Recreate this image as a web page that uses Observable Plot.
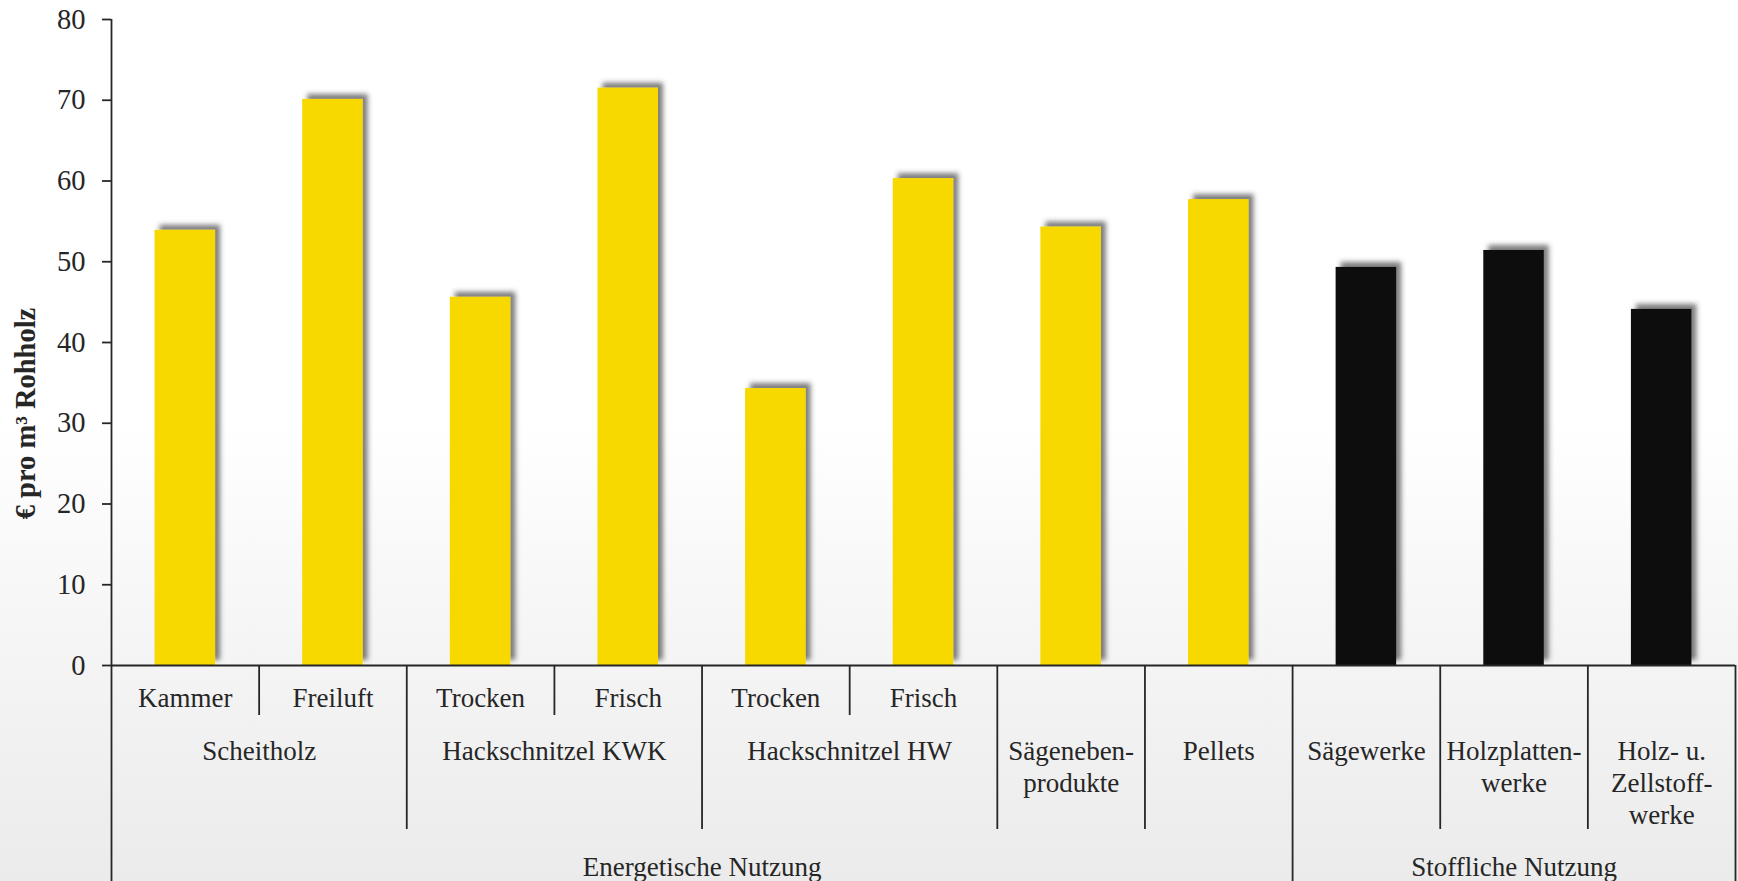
<!DOCTYPE html>
<html>
<head>
<meta charset="utf-8">
<script src="https://cdn.jsdelivr.net/npm/d3@7"></script>
<script src="https://cdn.jsdelivr.net/npm/@observablehq/plot@0.6"></script>
<style>
  html, body { margin: 0; padding: 0; }
  body {
    width: 1738px; height: 881px; overflow: hidden;
    background: linear-gradient(to bottom, #ffffff 0%, #ffffff 48%, #f6f6f6 70%, #ebebeb 100%);
  }
</style>
</head>
<body>
<div id="chart"></div>
<script>
// Price per cubic metre of raw wood, by type of use
const subLabels = ["Kammer", "Freiluft", "Trocken", "Frisch", "Trocken", "Frisch", null, null, null, null, null];
const groupLabels = [
  "Scheitholz", "Scheitholz",
  "Hackschnitzel KWK", "Hackschnitzel KWK",
  "Hackschnitzel HW", "Hackschnitzel HW",
  "Sägeneben-\nprodukte", "Pellets",
  "Sägewerke", "Holzplatten-\nwerke", "Holz- u.\nZellstoff-\nwerke"
];
const useLabels = [
  "Energetische Nutzung", "Energetische Nutzung", "Energetische Nutzung", "Energetische Nutzung",
  "Energetische Nutzung", "Energetische Nutzung", "Energetische Nutzung", "Energetische Nutzung",
  "Stoffliche Nutzung", "Stoffliche Nutzung", "Stoffliche Nutzung"
];
const values = [53.9, 70.1, 45.6, 71.5, 34.3, 60.3, 54.3, 57.7, 49.3, 51.4, 44.1];
const yTicks = [0, 10, 20, 30, 40, 50, 60, 70, 80];
const yLabel = "€ pro m³ Rohholz";

const W = 1738, H = 881;
const ML = 111, MR = 3, MT = 19, MB = 216;
const step = (W - ML - MR) / values.length;
const frameH = H - MT - MB;
const ink = "#262626";
const font = "Liberation Serif";

const rows = values.map((value, i) => ({i, value, use: useLabels[i], group: groupLabels[i], sub: subLabels[i]}));

// consecutive runs of equal labels -> span [start, end)
function runs(labels) {
  const out = [];
  labels.forEach((label, i) => {
    const last = out[out.length - 1];
    if (last && last.label === label) last.end = i + 1;
    else out.push({label, start: i, end: i + 1});
  });
  return out.map(r => ({...r, mid: (r.start + r.end) / 2}));
}
const groupRuns = runs(groupLabels);
const useRuns = runs(useLabels);

// category boundaries: level decides how far the divider reaches down
const bounds = d3.range(1, values.length + 1).map(b => {
  let kind;
  if (b === values.length || useLabels[b - 1] !== useLabels[b]) kind = "long";
  else if (groupLabels[b - 1] !== groupLabels[b]) kind = "medium";
  else kind = "short";
  return {b, kind};
});

const lineStyle = {stroke: ink, strokeWidth: 1.8};
const textStyle = {fontFamily: font, fontSize: 27, fill: ink};

const chart = Plot.plot({
  width: W, height: H,
  marginLeft: ML, marginRight: MR, marginTop: MT, marginBottom: MB,
  style: {background: "transparent", fontFamily: font, fontSize: "27px", color: ink},
  x: {type: "linear", domain: [0, values.length], axis: null},
  y: {domain: [0, 80], axis: null},
  color: {domain: ["Energetische Nutzung", "Stoffliche Nutzung"], range: ["#f7d900", "#0b0e0f"]},
  marks: [
    Plot.rectY(rows, {
      x1: "i", x2: d => d.i + 1, y: "value", fill: "use",
      insetLeft: step * 0.295, insetRight: step * 0.295
    }),
    Plot.axisY({ticks: yTicks, tickSize: 9, tickPadding: 17, label: null, ...lineStyle, fontSize: 28.5, fontFamily: font, fill: ink}),
    // y axis line, continued down as the left border of the category table
    Plot.ruleX([0], {...lineStyle, insetBottom: -MB}),
    Plot.ruleY([0], lineStyle),
    Plot.ruleX(bounds.filter(d => d.kind === "short"), {x: "b", ...lineStyle, insetTop: frameH, insetBottom: -50}),
    Plot.ruleX(bounds.filter(d => d.kind === "medium"), {x: "b", ...lineStyle, insetTop: frameH, insetBottom: -164}),
    Plot.ruleX(bounds.filter(d => d.kind === "long"), {x: "b", ...lineStyle, insetTop: frameH, insetBottom: -MB}),
    Plot.text(rows.filter(d => d.sub), {
      x: d => d.i + 0.5, text: "sub", frameAnchor: "bottom", dy: 33, lineAnchor: "middle", lineHeight: 1, ...textStyle
    }),
    Plot.text(groupRuns, {
      x: "mid", text: "label", frameAnchor: "bottom", dy: 71, lineAnchor: "top", lineHeight: 1.2, ...textStyle
    }),
    Plot.text(useRuns, {
      x: "mid", text: "label", frameAnchor: "bottom", dy: 202, lineAnchor: "middle", lineHeight: 1, ...textStyle
    }),
    Plot.text([yLabel], {
      frameAnchor: "left", textAnchor: "middle", dx: -86, dy: 71, rotate: -90, lineAnchor: "middle", lineHeight: 1,
      ...textStyle, fontSize: 28.5, fontWeight: "bold"
    })
  ]
});

// soft drop shadow behind the bars
const svg = d3.select(chart);
svg.insert("defs", ":first-child").html(
  `<filter id="barShadow" x="-20%" y="-10%" width="140%" height="120%">
     <feDropShadow dx="5" dy="-5" stdDeviation="2.4" flood-color="#3a3a3a" flood-opacity="0.65"/>
   </filter>`
);
svg.select('g[aria-label="rect"]').attr("filter", "url(#barShadow)");

document.getElementById("chart").appendChild(chart);
</script>
</body>
</html>
